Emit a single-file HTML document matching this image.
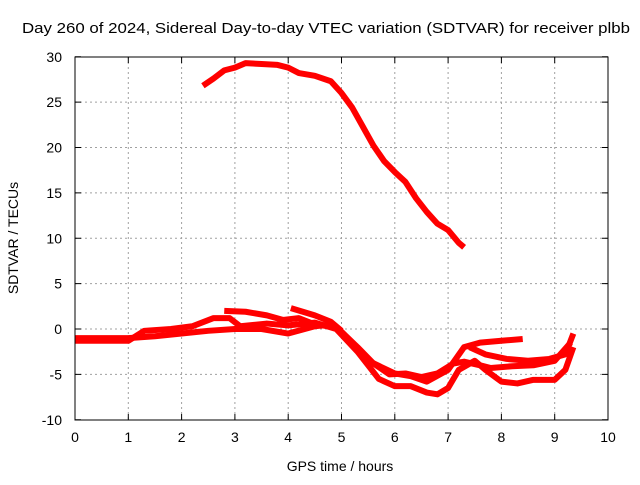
<!DOCTYPE html>
<html><head><meta charset="utf-8"><style>
body{margin:0;background:#fff}
svg text{font-family:"Liberation Sans",sans-serif;font-size:14px;fill:#000}
</style></head><body>
<svg id="chart" width="640" height="480">
<text x="22" y="33" textLength="608" lengthAdjust="spacingAndGlyphs" style="font-size:15px">Day 260 of 2024, Sidereal Day-to-day VTEC variation (SDTVAR) for receiver plbb</text>
<g id="grid"></g><g id="series"></g><g id="axes"></g>
<text x="340" y="471" text-anchor="middle">GPS time / hours</text>
<text transform="translate(18,238) rotate(-90)" text-anchor="middle">SDTVAR / TECUs</text>
</svg>
<script>
const xTicks=[0,1,2,3,4,5,6,7,8,9,10];
const yTicks=[-10,-5,0,5,10,15,20,25,30];
const s1x=[2.4,2.6,2.8,3.0,3.2,3.5,3.8,4.0,4.2,4.5,4.8,5.0,5.2,5.4,5.6,5.8,6.0,6.2,6.4,6.6,6.8,7.0,7.2,7.3];
const s1y=[26.8,27.6,28.5,28.8,29.3,29.2,29.1,28.8,28.2,27.9,27.3,26,24.4,22.3,20.2,18.5,17.3,16.2,14.4,12.9,11.6,10.9,9.5,9.0];
const s2x=[0,0.5,1,1.5,2,2.5,3,3.5,4,4.5,4.8,5,5.3,5.6,5.9,6.2,6.5,6.8,7.1,7.3,7.6,7.8,8.2,8.6,9,9.3];
const s2y=[-1,-1,-1,-0.8,-0.5,-0.2,0,0,-0.5,0.3,0.5,-0.3,-2,-3.8,-5,-4.9,-5.3,-4.9,-3.8,-3.6,-4,-4.3,-4.1,-4,-3.5,-1.5];
const s3x=[0,0.5,1,1.3,1.8,2.2,2.6,2.9,3.1,3.6,4,4.5,4.9,5.3,5.7,6,6.3,6.6,6.8,7,7.2,7.5,7.7,8,8.3,8.6,9,9.2,9.35];
const s3y=[-1.3,-1.3,-1.3,-0.2,0,0.3,1.2,1.2,0.3,0.6,0.4,0.7,0,-2.5,-5.5,-6.3,-6.3,-7,-7.2,-6.5,-4.5,-3.5,-4.5,-5.8,-6,-5.6,-5.6,-4.5,-2];
const s4x=[2.8,3.2,3.6,3.9,4.2,4.5,4.9,5,5.5,6,6.3,6.6,7,7.3,7.6,8,8.4];
const s4y=[2,1.9,1.5,1.0,1.2,0.5,0.2,-0.3,-3.5,-4.9,-5.2,-5.8,-4.5,-2,-1.5,-1.3,-1.1];
const s5x=[4.05,4.5,4.8,5.0];
const s5y=[2.3,1.5,0.8,-0.2];
const s6x=[7.4,7.7,8.1,8.5,8.9,9.2,9.35];
const s6y=[-2,-2.8,-3.3,-3.5,-3.3,-2.8,-0.5];
const NS="http://www.w3.org/2000/svg";
const X=v=>75+v*53.3, Y=v=>329-v*9.075;
const grid=document.getElementById('grid'),axes=document.getElementById('axes'),ser=document.getElementById('series');
function mk(tag,at,p){const e=document.createElementNS(NS,tag);for(const k in at)e.setAttribute(k,at[k]);p.appendChild(e);return e;}
xTicks.forEach(t=>{
 if(t>0&&t<10){const g=mk('line',{x1:X(t),x2:X(t),y1:57,y2:420,stroke:'#a0a0a0','stroke-dasharray':'2,3'},grid);
 
 }
 mk('line',{x1:X(t),x2:X(t),y1:420,y2:414,stroke:'#000'},axes);
 mk('line',{x1:X(t),x2:X(t),y1:57,y2:63,stroke:'#000'},axes);
 const l=mk('text',{x:X(t),y:442,'text-anchor':'middle'},axes);l.textContent=t;
 
 
});
yTicks.forEach(t=>{
 if(t>-10&&t<30){const g=mk('line',{x1:75,x2:608,y1:Y(t),y2:Y(t),stroke:'#a0a0a0','stroke-dasharray':'2,3'},grid);
 
 }
 mk('line',{x1:75,x2:81,y1:Y(t),y2:Y(t),stroke:'#000'},axes);
 mk('line',{x1:602,x2:608,y1:Y(t),y2:Y(t),stroke:'#000'},axes);
 const l=mk('text',{x:62,y:Y(t)+5,'text-anchor':'end'},axes);l.textContent=t;
 
 
});
const fr=mk('rect',{x:75,y:57,width:533,height:363,fill:'none',stroke:'#000'},axes);


[[s1x,s1y],[s2x,s2y],[s3x,s3y],[s4x,s4y],[s5x,s5y],[s6x,s6y]].forEach((s,i)=>{
 const p=mk('polyline',{points:s[0].map((x,j)=>X(x)+','+Y(s[1][j])).join(' '),fill:'none',stroke:'#ff0000','stroke-width':6,'stroke-linejoin':'round'},ser);
 
 
});
</script>
</body></html>
